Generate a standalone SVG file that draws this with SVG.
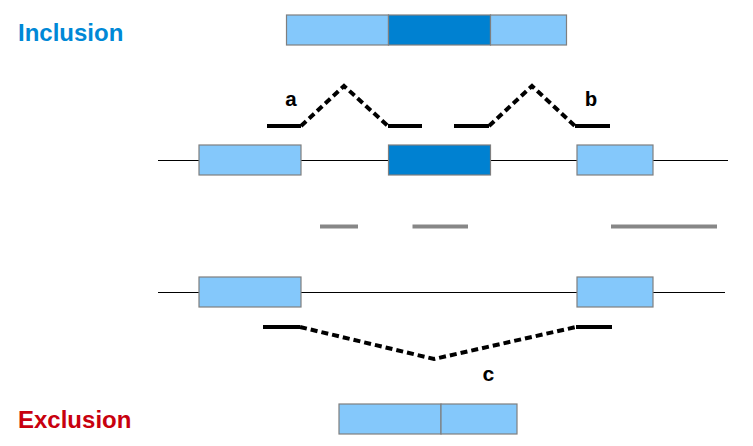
<svg xmlns="http://www.w3.org/2000/svg" width="753" height="446" viewBox="0 0 753 446">
<style>
.lt{fill:#84c8fb;stroke:#7f7f7f;stroke-width:1.2}
.dk{fill:#0081d1;stroke:#7f7f7f;stroke-width:1.2}
.gl{stroke:#000;stroke-width:1}
.sol{stroke:#000;stroke-width:4;fill:none}
.dash{stroke:#000;stroke-width:4;fill:none;stroke-dasharray:7,4}
.gr{stroke:#878787;stroke-width:4}
.lab{font-family:"Liberation Mono","Courier New",monospace;font-weight:bold;font-size:21px;text-anchor:middle;fill:#000}
.ttl{font-family:"Liberation Sans",Arial,sans-serif;font-weight:bold;font-size:24px}
</style>
<rect width="753" height="446" fill="#fff"/>
<text id="inclusion" class="ttl" x="18" y="41" fill="#0088d6">Inclusion</text>
<text id="exclusion" class="ttl" x="18" y="428" fill="#c8000e">Exclusion</text>
<g id="inclusion-transcript">
<rect class="lt" x="286.5" y="15" width="102" height="30"/>
<rect class="dk" x="388.5" y="15" width="102" height="30"/>
<rect class="lt" x="490.5" y="15" width="76" height="30"/>
</g>
<g id="connectors">
<line class="gl" x1="158" y1="160.5" x2="728" y2="160.5"/>
<line class="gl" x1="158" y1="292.5" x2="725" y2="292.5"/>
<path class="sol" d="M267 126H301"/>
<path class="dash" d="M301 126L344 86L388 126"/>
<path class="sol" d="M388 126H422"/>
<path class="sol" d="M454 126H489"/>
<path class="dash" d="M489 126L532 86L575 126"/>
<path class="sol" d="M575 126H610"/>
<path class="sol" d="M263 327H300"/>
<path class="dash" d="M300 327L434 359L576 327"/>
<path class="sol" d="M576 327H612"/>
<line class="gr" x1="320" y1="226.5" x2="358" y2="226.5"/>
<line class="gr" x1="412.5" y1="226.5" x2="468" y2="226.5"/>
<line class="gr" x1="611" y1="226.5" x2="717" y2="226.5"/>
</g>
<g id="gene-inclusion">
<rect class="lt" x="199" y="145" width="102" height="30"/>
<rect class="dk" x="388.5" y="145" width="102" height="30"/>
<rect class="lt" x="577" y="145" width="76" height="30"/>
</g>
<g id="gene-exclusion">
<rect class="lt" x="199" y="277" width="102" height="30"/>
<rect class="lt" x="577" y="277" width="76" height="30"/>
</g>
<g id="exclusion-transcript">
<rect class="lt" x="339" y="404" width="102" height="30"/>
<rect class="lt" x="441" y="404" width="76" height="30"/>
</g>
<g id="labels">
<text class="lab" x="291" y="106">a</text>
<text class="lab" x="591" y="106">b</text>
<text class="lab" x="488.5" y="381">c</text>
</g>
</svg>
